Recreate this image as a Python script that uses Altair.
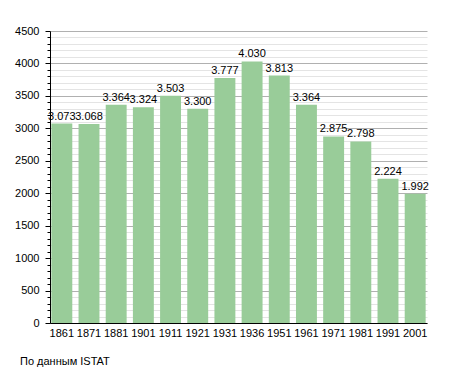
import altair as alt
import pandas as pd

years = ["1861", "1871", "1881", "1901", "1911", "1921", "1931", "1936", "1951", "1961", "1971", "1981", "1991", "2001"]
population = [3073, 3068, 3364, 3324, 3503, 3300, 3777, 4030, 3813, 3364, 2875, 2798, 2224, 1992]
labels = ["3.073", "3.068", "3.364", "3.324", "3.503", "3.300", "3.777", "4.030", "3.813", "3.364", "2.875", "2.798", "2.224", "1.992"]
y_ticks = list(range(0, 4501, 100))
source_note = "По данным  ISTAT"

df = pd.DataFrame({"year": years, "pop": population, "label": labels})

FONT = "Liberation Sans"

x_axis = alt.Axis(labelAngle=0, ticks=False, domainColor="black",
                  labelColor="black", labelFontSize=11, labelFont=FONT,
                  labelPadding=4, grid=False)
x_scale = alt.Scale(paddingInner=0.23, paddingOuter=0.05)
y_scale = alt.Scale(domain=[0, 4500], nice=False)
y_axis = alt.Axis(values=y_ticks, format="d",
                  labelExpr="datum.value % 500 === 0 ? datum.label : ''",
                  labelOverlap=False,
                  grid=True,
                  gridColor={"condition": {"test": "datum.value % 500 === 0", "value": "#b0b0b0"}, "value": "#e4e4e4"},
                  tickSize={"condition": {"test": "datum.value % 500 === 0", "value": 5}, "value": 3},
                  tickColor="black", domainColor="black",
                  labelColor="black", labelFontSize=11, labelFont=FONT,
                  labelPadding=6)

bars = alt.Chart(df).mark_bar(color="#99CC99").encode(
    x=alt.X("year:N", sort=years, title=None, scale=x_scale, axis=x_axis),
    y=alt.Y("pop:Q", scale=y_scale, title=None, axis=y_axis),
)

text = alt.Chart(df).mark_text(baseline="bottom", dy=-2, fontSize=11, font=FONT, color="black").encode(
    x=alt.X("year:N", sort=years, title=None, scale=x_scale, axis=x_axis),
    y=alt.Y("pop:Q", scale=y_scale, title=None, axis=y_axis),
    text="label:N",
)

note = alt.Chart(pd.DataFrame({"t": [source_note]})).mark_text(
    align="left", baseline="middle", fontSize=11, font=FONT, color="black"
).encode(x=alt.value(-30), y=alt.value(331), text="t:N")

chart = alt.layer(bars, text, note).properties(
    width=377, height=292,
    autosize=alt.AutoSizeParams(type="none"),
    padding={"left": 42, "top": 23, "right": 20, "bottom": 50},
    background="white",
).configure_view(stroke=None)

chart.save("out.html", embed_options={"renderer": "svg", "actions": False})
